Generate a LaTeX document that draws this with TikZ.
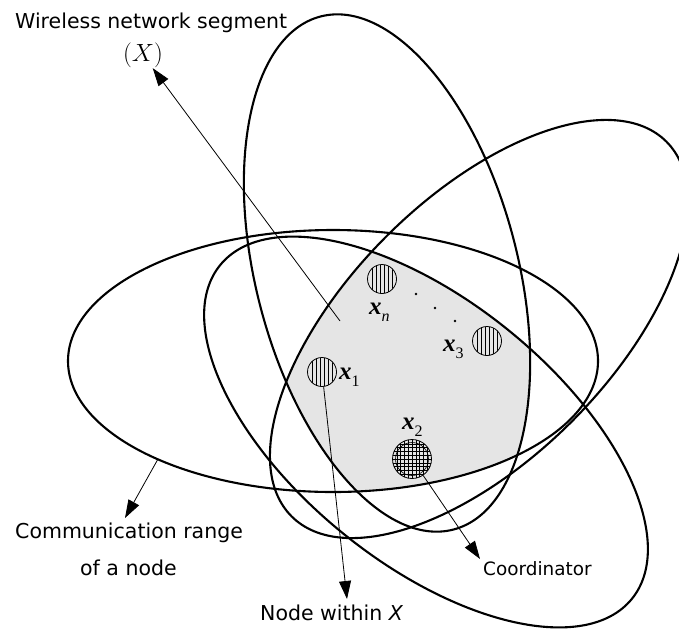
\documentclass[tikz,border=0pt]{standalone}
\usepackage[no-math]{fontspec}
\newfontfamily\sansfont{DejaVu Sans}
\newfontfamily\serifx{Liberation Serif}
\newcommand{\subfnt}{\serifx\mdseries\fontsize{16}{16}\selectfont}
\usetikzlibrary{arrows.meta}
\begin{document}
\begin{tikzpicture}[x=1pt,y=-1pt,
  rangeline/.style={line width=2.1pt, black},
  segfill/.style={fill=black!10},
  pointer/.style={line width=0.8pt, -{Triangle[length=18pt,width=12pt]}},
  caption/.style={font=\sansfont\fontsize{20.5}{24}\selectfont, inner sep=0pt, anchor=base west},
  smallcaption/.style={font=\sansfont\fontsize{18.4}{22}\selectfont, inner sep=0pt, anchor=base west},
  member/.style={circle, draw, line width=0.8pt, minimum size=29pt, inner sep=0pt,
    path picture={\foreach \k in {-10,-6,...,10}
      \draw[line width=0.8pt] ([xshift=\k pt]path picture bounding box.north) -- ([xshift=\k pt]path picture bounding box.south);}},
  coordnode/.style={circle, draw, line width=0.8pt, minimum size=39pt, inner sep=0pt,
    path picture={\foreach \k in {-15.2,-11.4,...,15.3} {
      \draw[line width=0.6pt] ([xshift=\k pt]path picture bounding box.north) -- ([xshift=\k pt]path picture bounding box.south);
      \draw[line width=0.6pt] ([yshift=\k pt]path picture bounding box.west) -- ([yshift=\k pt]path picture bounding box.east);}}},
  xlab/.style={font=\serifx\bfseries\itshape\fontsize{25}{25}\selectfont, inner sep=0pt, anchor=base west}
]
\fill[white] (0,0) rectangle (679,630);
\useasboundingbox (0,0) rectangle (679,630);
\clip (0,0) rectangle (679,630);

% shared part of the four communication ranges
\begin{scope}
  \clip (333,361) ellipse [x radius=265pt, y radius=131pt];
  \clip[rotate around={104.5:(387,273)}] (387,273) ellipse [x radius=265pt, y radius=131pt];
  \clip[rotate around={45:(479,329)}] (479,329) ellipse [x radius=265pt, y radius=131pt];
  \fill[segfill, rotate around={-39:(426,432)}] (426,432) ellipse [x radius=265pt, y radius=131pt];
\end{scope}

% communication ranges
\foreach \cx/\cy/\ang in {333/361/0, 387/273/104.5, 479/329/45, 426/432/-39}
  \draw[rangeline, rotate around={\ang:(\cx,\cy)}] (\cx,\cy) ellipse [x radius=265pt, y radius=131pt];

% nodes of the segment
\node[member] (xn) at (382,279) {};
\node[member] (xone) at (322,372) {};
\node[member] (xthree) at (487,341) {};
\node[coordnode] (xtwo) at (412,459) {};
\draw[line width=0.6pt] (xtwo) circle (16.5pt);

\node[xlab] (lxn) at (369,314) {x\raisebox{-7pt}{\subfnt\itshape n}};
\node[xlab] (lxone) at (339,379) {x\raisebox{-7pt}{\subfnt\upshape 1}};
\node[xlab] (lxthree) at (443,351) {x\raisebox{-7pt}{\subfnt\upshape 3}};
\node[xlab] (lxtwo) at (402,429) {x\raisebox{-7pt}{\subfnt\upshape 2}};

\foreach \px/\py in {416/294, 435/308, 455/321}
  \fill (\px,\py) circle (1.4pt);

% captions
\node[caption] (wns) at (15,28) {Wireless network segment};
\node[inner sep=0.5pt, font=\fontsize{34}{34}\selectfont] (segX) at (143,55) {$(X)$};
\node[caption] (comm) at (15,538) {Communication range};
\node[caption] (ofnode) at (80,575) {of a node};
\node[caption] (within) at (260,620) {Node within \textit{X}};
\node[smallcaption] (coordlab) at (483,575) {Coordinator};

% pointers
\coordinate (segin) at (340,321);
\coordinate (aedge) at (158,459);
\coordinate (commtip) at (125,518);
\coordinate (withintip) at (347,599);
\coordinate (coordtip) at (480,559);

\draw[pointer] (segin) -- (segX);
\draw[pointer] (aedge) -- (commtip);
\draw[pointer] (xone) -- (withintip);
\draw[pointer] (xtwo) -- (coordtip);
\end{tikzpicture}
\end{document}
